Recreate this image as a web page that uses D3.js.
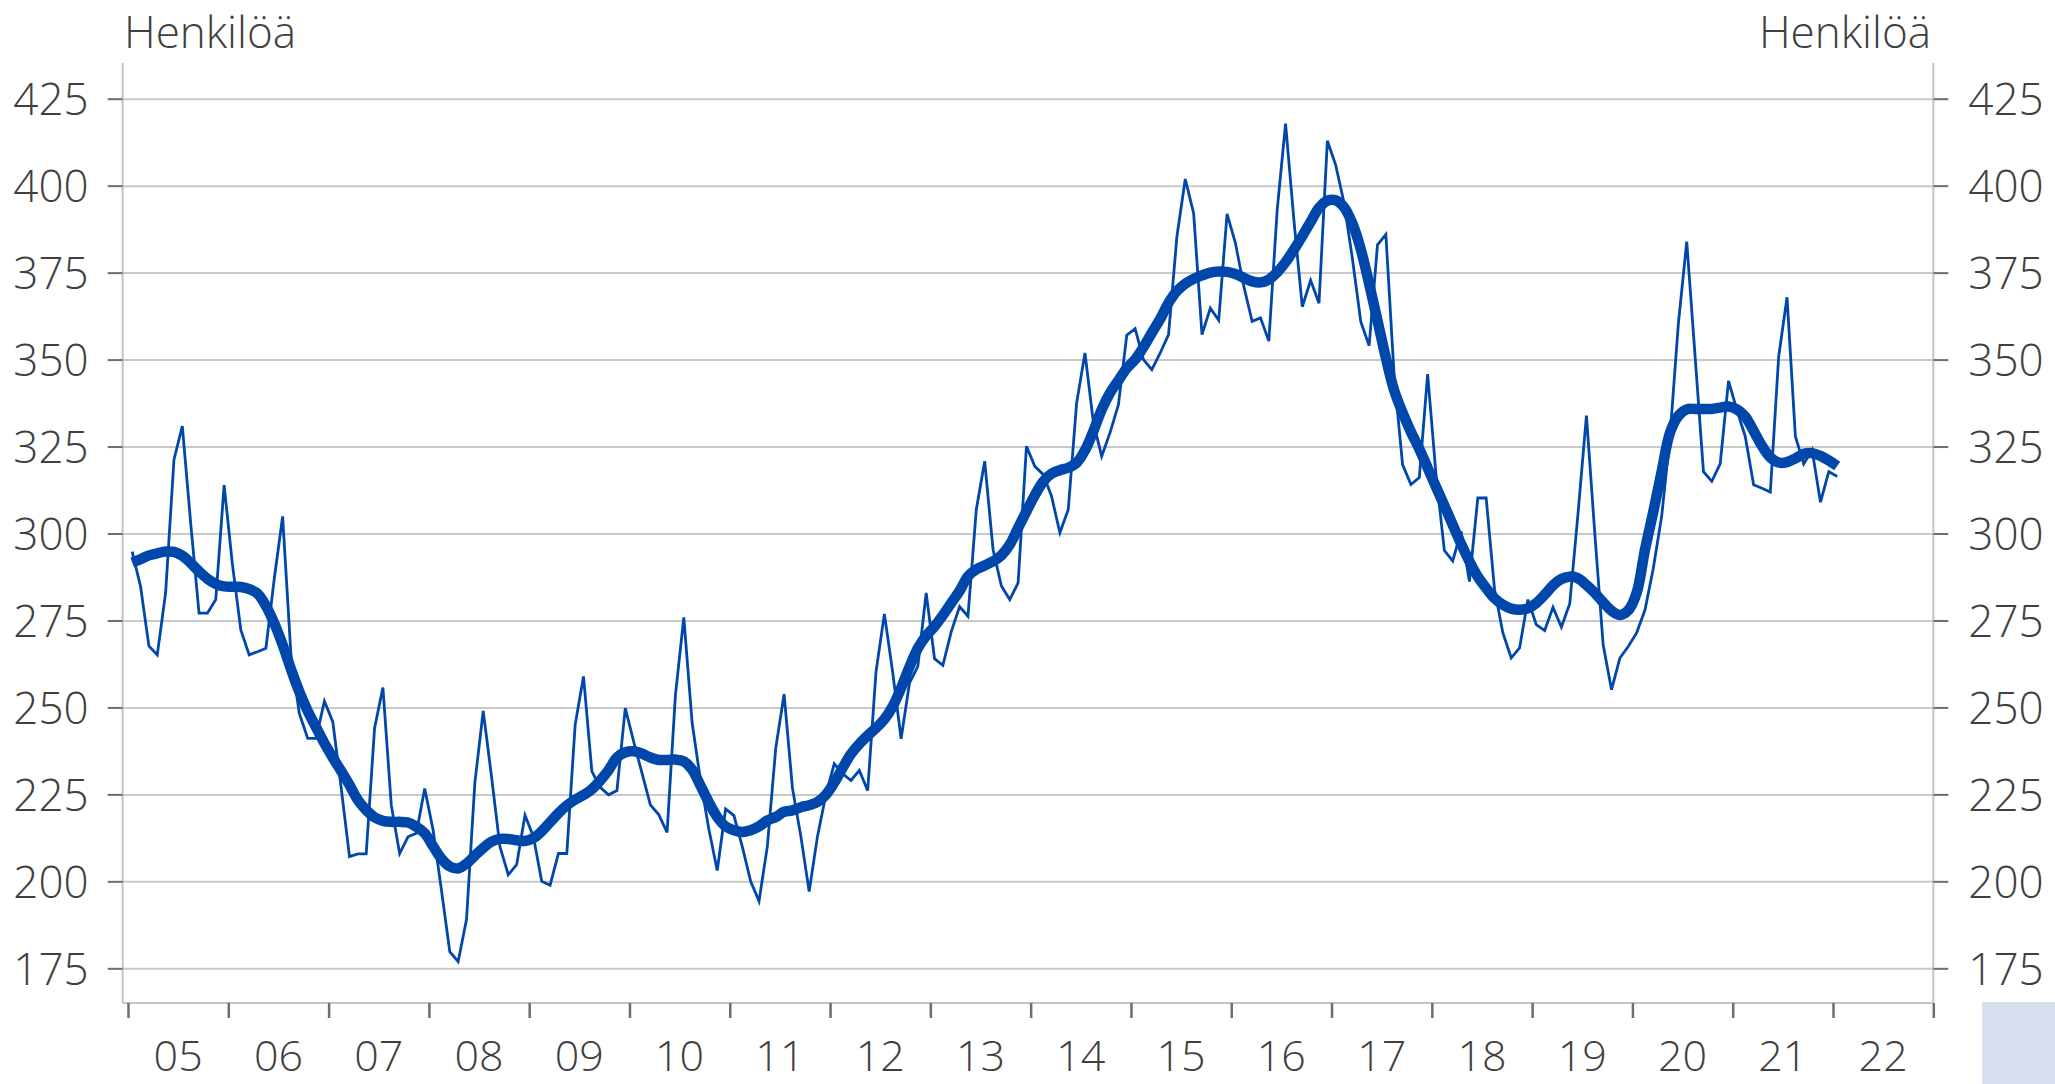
<!DOCTYPE html>
<html><head><meta charset="utf-8">
<script src="https://cdn.jsdelivr.net/npm/d3@7"></script>
<style>
body{margin:0;background:#fff}
svg{display:block}
text{font-family:"Open Sans",sans-serif;fill:#404040}
</style>
</head><body>
<svg id="chart" width="2055" height="1084"></svg>
<script>
const startYear = 2005;
const yTicks = [175,200,225,250,275,300,325,350,375,400,425];
const xTickYears = [2005,2006,2007,2008,2009,2010,2011,2012,2013,2014,2015,2016,2017,2018,2019,2020,2021,2022,2023];
const xLabels = ["05","06","07","08","09","10","11","12","13","14","15","16","17","18","19","20","21","22"];
const unitLabel = "Henkilöä";

// monthly values, Jan 2005 – Jan 2022
const monthly = [
294.8,284.8,267.7,265.1,282.9,321.2,330.9,303,277.1,277.1,281,313.9,
291,272.3,265.1,266,267,287,304.9,265,248.3,241.1,241.1,251.8,
245.9,227,207.1,207.9,207.9,244,255.7,221.9,208,212.8,213.8,226.7,
214.8,197.5,179.8,176.9,189,228.3,249,230,210,201.9,204.8,219,
212.9,200,198.9,208,208,245,258.9,231.6,227,224.9,226.1,249.8,
240.2,231.1,222,219.2,214.1,253.6,275.9,245.5,229,215,203.1,220.8,
218.9,210,200,194.3,210.1,238.3,253.8,226.8,213,197.1,213,224.9,
233.8,231,229,231.9,226.1,260.3,276.9,260,241,257,261.8,282.9,
264,262.1,271.8,279,276.2,306.9,320.8,295.4,284.9,281,285.8,325.1,
319.3,317,310.7,300.2,306.9,337.5,351.9,332,322.2,329,337,357,
358.9,350,347.1,351.9,357.2,385.4,401.9,392.1,357.2,364.8,361.3,391.9,
383.5,371.1,361,362,355.3,393.1,417.8,390,365.2,372.8,366.2,412.9,
405.9,395,379,360.9,354,383,386,345,319.8,314.1,316.1,345.8,
316.9,295.1,292.1,300.6,286.2,310.2,310.2,284,271.4,264.2,267.1,281,
273.8,272.1,278.8,273.1,279.8,306,333.9,300,268,255.1,264.2,267.5,
271.4,278,290,305,328,360.4,383.9,350.9,317.8,315,320,343.9,
335.5,327.9,314,313,311.9,350.9,367.9,327.9,320,324,309,317.8,
316.4
];

// trend values, Jan 2005 – Jan 2022
const trend = [
291.7,292.6,293.7,294.3,294.8,294.7,293.6,291.5,289.1,287,285.5,284.8,
284.7,284.6,284,282.7,279.2,274.2,268,261,254.5,249,244.3,239.7,
235.6,231.7,227.7,223.4,220.5,218.4,217.4,217.1,217.1,216.9,215.7,213.8,
210.1,206.5,204.3,203.7,205.1,207.4,209.6,211.4,212.2,212.2,211.8,211.6,
212.4,214.4,217,219.6,221.8,223.5,224.8,226.5,229,232,235.6,237.1,
237.4,236.7,235.6,234.9,234.9,235,234.5,232.1,227.5,222.7,218.5,215.8,
214.7,214.2,214.7,215.8,217.5,218.5,220,220.4,221.3,221.9,222.8,224.9,
228.4,232.6,236.6,239.5,241.9,244.1,246.6,250.3,255.6,261.6,267,270.6,
273.3,276.5,280,283.5,287.7,289.7,290.8,292,293.7,296.8,301.6,306.4,
311,314.9,317.2,318.2,318.9,320.3,323.9,329.4,335.6,340.4,344,347.5,
350,353.6,357.7,361.7,366.3,369.7,371.8,373.2,374.2,375,375.3,375.2,
374.6,373.5,372.5,372.2,373,375.1,378,381.6,385.5,389.6,393.6,395.7,
395.8,393.8,389.1,381.7,371.8,361.2,350.5,341.1,334.7,329.2,324.3,318.9,
313.4,308,302.5,297,292,287.6,284.3,281.4,279.5,278.4,278.1,278.5,
280,282.4,285.1,286.9,287.6,287.1,285.2,282.9,280.2,277.8,276.6,277.9,
282.9,295.3,306.3,317.8,329,333.8,335.7,335.8,335.8,335.8,336.2,336.5,
335.7,333.6,329.5,325.2,321.9,320.4,320.5,321.6,322.9,323.1,322.3,321,
319.4
];

const W = 2055, H = 1084;
const plotLeft = 122.7, plotRight = 1933.3, plotTop = 63, plotBottom = 1003;
const lineColor = "#0047AB";

const svg = d3.select("#chart");
svg.append("rect").attr("width", W).attr("height", H).attr("fill", "#fff");

const x = d3.scaleLinear().domain([2005, 2023]).range([128.0, 1933.3]);
const y = d3.scaleLinear().domain([175, 425]).range([968.3, 98.7]);

// gridlines
const grid = svg.append("g").attr("transform", `translate(${plotLeft},0)`)
  .call(d3.axisRight(y).tickValues(yTicks).tickSize(plotRight - plotLeft).tickFormat(""));
grid.select(".domain").remove();
grid.selectAll("line").attr("stroke", "#c9c9c9").attr("stroke-width", 2);

// vertical axis lines
svg.append("line").attr("x1", plotLeft).attr("x2", plotLeft).attr("y1", plotTop).attr("y2", plotBottom)
  .attr("stroke", "#c4c4c4").attr("stroke-width", 2);
svg.append("line").attr("x1", plotRight).attr("x2", plotRight).attr("y1", plotTop).attr("y2", plotBottom)
  .attr("stroke", "#c4c4c4").attr("stroke-width", 2);

// left axis
const yl = svg.append("g").attr("transform", `translate(${plotLeft},0)`)
  .call(d3.axisLeft(y).tickValues(yTicks).tickSize(15).tickPadding(19));
yl.select(".domain").remove();
yl.selectAll("line").attr("stroke", "#6e6e6e").attr("stroke-width", 2);
yl.selectAll("text").attr("font-size", 44).attr("font-family", "Open Sans").attr("fill", "#404040").attr("dy", "0.36em").attr("font-weight", 300);

// right axis
const yr = svg.append("g").attr("transform", `translate(${plotRight},0)`)
  .call(d3.axisRight(y).tickValues(yTicks).tickSize(15).tickPadding(20));
yr.select(".domain").remove();
yr.selectAll("line").attr("stroke", "#6e6e6e").attr("stroke-width", 2);
yr.selectAll("text").attr("font-size", 44).attr("font-family", "Open Sans").attr("fill", "#404040").attr("dy", "0.36em").attr("font-weight", 300);

// bottom axis
svg.append("line").attr("x1", plotLeft).attr("x2", plotRight).attr("y1", plotBottom).attr("y2", plotBottom)
  .attr("stroke", "#c4c4c4").attr("stroke-width", 2);
const xa = svg.append("g").attr("transform", `translate(0,${plotBottom})`)
  .call(d3.axisBottom(x).tickValues(xTickYears).tickSize(15).tickFormat(""));
xa.select(".domain").remove();
xa.selectAll("line").attr("stroke", "#6e6e6e").attr("stroke-width", 2.5);

svg.append("g").selectAll("text").data(xLabels).join("text")
  .attr("x", (d, i) => x(startYear + i + 0.5))
  .attr("y", 1071)
  .attr("text-anchor", "middle")
  .attr("font-size", 43).attr("font-weight", 300)
  .text(d => d);

// unit labels
svg.append("text").attr("x", 124).attr("y", 48).attr("font-size", 44).attr("font-weight", 300).text(unitLabel);
svg.append("text").attr("x", 1931).attr("y", 48).attr("text-anchor", "end").attr("font-size", 44).attr("font-weight", 300).text(unitLabel);

// lines
const xm = i => x(startYear + (i + 0.5) / 12);
const thin = d3.line().x((d, i) => xm(i)).y(d => y(d));
const smooth = d3.line().x((d, i) => xm(i)).y(d => y(d)).curve(d3.curveCatmullRom.alpha(0.5));

svg.append("path").datum(monthly).attr("d", thin)
  .attr("fill", "none").attr("stroke", lineColor).attr("stroke-width", 2.8).attr("stroke-linejoin", "miter");
svg.append("path").datum(trend).attr("d", smooth)
  .attr("fill", "none").attr("stroke", lineColor).attr("stroke-width", 10.5).attr("stroke-linejoin", "round").attr("stroke-linecap", "butt");

// corner box
svg.append("rect").attr("x", 1982).attr("y", 1002).attr("width", 73).attr("height", 82).attr("fill", "#d9dfef");
</script>
</body></html>
